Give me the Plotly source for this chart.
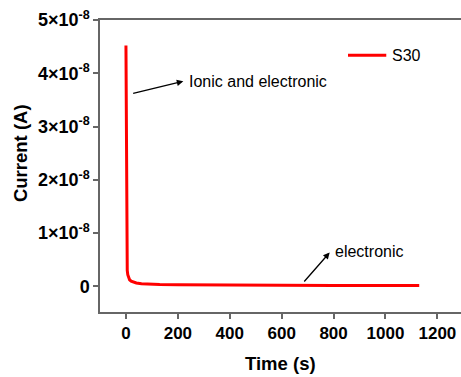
import plotly.graph_objects as go

# Chronoamperometry of sample S30
time_s = [0, 1, 2, 3, 4, 5, 7, 10, 14, 20, 28, 40, 60, 90, 130, 200,
          300, 400, 600, 800, 1000, 1130]
current_e8 = [4.52, 3.0, 1.5, 0.6, 0.38, 0.3, 0.22, 0.16, 0.125, 0.1, 0.08,
              0.064, 0.052, 0.043, 0.036, 0.03, 0.025, 0.022, 0.02, 0.019,
              0.018, 0.018]
current_a = [v * 1e-8 for v in current_e8]

y_tick_vals = [0, 1e-8, 2e-8, 3e-8, 4e-8, 5e-8]
y_tick_text = ["0", "1×10<sup>-8</sup>", "2×10<sup>-8</sup>", "3×10<sup>-8</sup>",
               "4×10<sup>-8</sup>", "5×10<sup>-8</sup>"]
x_tick_vals = [0, 200, 400, 600, 800, 1000, 1200]

FONT = "Arial, Liberation Sans, sans-serif"
AX = "#666666"
RED = "#ff0000"

fig = go.Figure()
fig.add_trace(go.Scatter(x=time_s, y=current_a, mode="lines", name="S30",
                         showlegend=False,
                         line=dict(color=RED, width=3)))

fig.update_layout(
    width=461, height=377,
    margin=dict(l=100, r=0, t=20, b=65),
    paper_bgcolor="white", plot_bgcolor="white",
    font=dict(family=FONT, color="black"),
    xaxis=dict(range=[-100, 1291], tickvals=x_tick_vals,
               showgrid=False, zeroline=False,
               showline=True, linecolor=AX, linewidth=1.5, mirror=True,
               ticks="outside", ticklen=5, tickwidth=1.5, tickcolor=AX,
               tickfont=dict(size=17, family=FONT, weight="bold")),
    yaxis=dict(range=[-0.48e-8, 5e-8], tickvals=y_tick_vals, ticktext=y_tick_text,
               showgrid=False, zeroline=False,
               showline=True, linecolor=AX, linewidth=1.5,
               ticks="outside", ticklen=5, tickwidth=1.5, tickcolor=AX,
               tickfont=dict(size=18, family=FONT, weight="bold")),
)

# legend key for the series
fig.add_shape(type="line", xref="paper", yref="paper",
              x0=0.687, x1=0.793, y0=0.879, y1=0.879,
              line=dict(color=RED, width=3))
fig.add_annotation(text="S30", xref="paper", yref="paper", x=0.802, y=0.879,
                   xanchor="left", yanchor="middle", showarrow=False,
                   font=dict(size=16, family=FONT))

# axis titles
fig.add_annotation(text="<b>Current (A)</b>", xref="paper", yref="y",
                   x=-0.222, y=2.5e-8, textangle=-90, showarrow=False,
                   xanchor="center", yanchor="middle",
                   font=dict(size=18.5, family=FONT))
fig.add_annotation(text="<b>Time (s)</b>", xref="paper", yref="paper",
                   x=0.5, y=-0.175, xanchor="center", yanchor="middle",
                   showarrow=False, font=dict(size=18.5, family=FONT))

# callouts
fig.add_annotation(text="Ionic and electronic", x=235, y=3.85e-8,
                   xanchor="left", yanchor="middle", showarrow=False,
                   font=dict(size=16, family=FONT))
fig.add_annotation(x=221, y=3.85e-8, ax=22, ay=3.615e-8, axref="x", ayref="y",
                   xref="x", yref="y", text="", showarrow=True,
                   arrowhead=2, arrowsize=1, arrowwidth=1.3, arrowcolor="black")
fig.add_annotation(text="electronic", x=799, y=0.66e-8,
                   xanchor="left", yanchor="middle", showarrow=False,
                   font=dict(size=16, family=FONT))
fig.add_annotation(x=785, y=0.638e-8, ax=682, ay=0.064e-8, axref="x", ayref="y",
                   xref="x", yref="y", text="", showarrow=True,
                   arrowhead=2, arrowsize=1, arrowwidth=1.3, arrowcolor="black")

fig.write_html("out.html")
